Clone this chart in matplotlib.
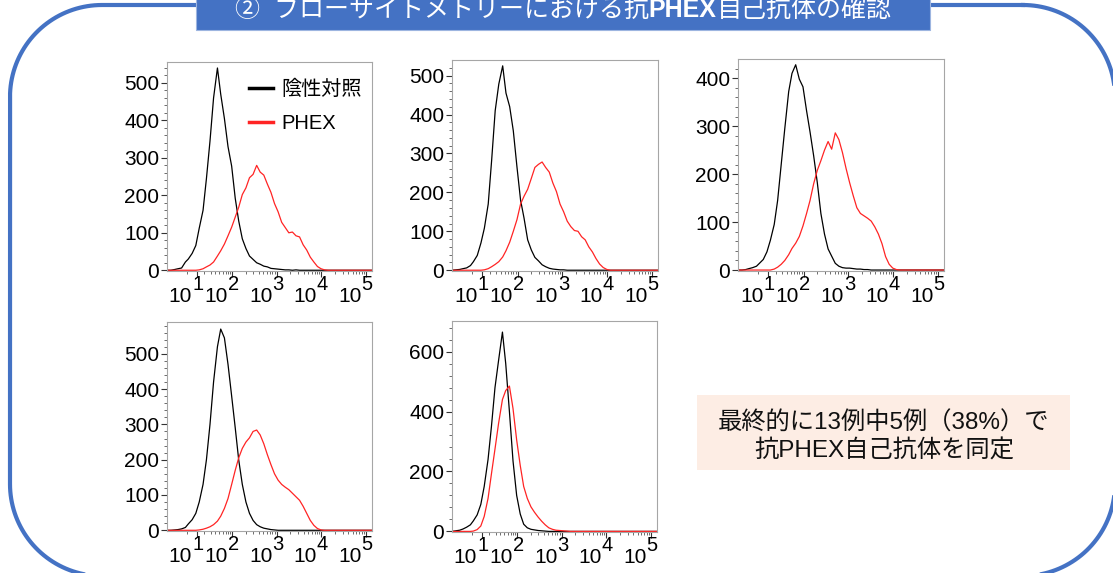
import numpy as np
import matplotlib
matplotlib.use("Agg")
import matplotlib.pyplot as plt
from matplotlib.patches import Rectangle
from matplotlib.lines import Line2D
from matplotlib.offsetbox import TextArea, HPacker, AnnotationBbox

JP = ['Liberation Sans', 'Noto Sans CJK JP']
plt.rcParams['font.family'] = JP

BLUE = '#4472c4'
RED = '#ff2424'

# fluorescence bins (channel intensity)
bins = [-25, -19, -14, -10, -6, -2, 1, 5, 9, 13, 18, 23, 29, 36, 45, 54, 66, 80,
        97, 117, 140, 169, 204, 245, 295, 355, 426, 513, 617, 741, 891, 1072,
        1288, 1549, 1862, 2239, 2692, 3236, 3890, 4677, 5623, 6761, 8128, 9772,
        11749, 14125, 16982, 20417, 24547, 29512, 35481, 42658, 51286, 61660,
        74131, 89125, 107152, 135000]

Z = [0] * 10
neg1 = [0, 0, 2, 4, 6, 22, 30, 45, 66, 112,
        160, 245, 345, 460, 540, 470, 405, 330, 278, 192,
        132, 84, 58, 38, 29, 20, 16, 11, 9, 5,
        4, 3, 2, 1, 1, 0, 1, 0, 0, 0] + Z + [0] * 8
phex1 = [0, 0, 0, 0, 0, 0, 0, 0, 0, 1,
         4, 9, 14, 22, 38, 52, 70, 92, 115, 142,
         168, 202, 220, 247, 256, 280, 262, 254, 230, 208,
         178, 156, 128, 114, 100, 102, 92, 89, 68, 54,
         35, 22, 10, 4, 1, 0, 0, 0, 0, 0] + [0] * 8

neg2 = [0, 1, 2, 4, 6, 12, 22, 38, 70, 108,
        170, 282, 410, 478, 525, 455, 420, 358, 265, 180,
        134, 78, 52, 33, 24, 14, 9, 5, 3, 2,
        1, 1, 0, 0, 0, 0, 0, 0, 0, 0] + Z + [0] * 8
phex2 = [0, 0, 0, 0, 0, 0, 0, 0, 0, 1,
         4, 9, 15, 22, 34, 50, 72, 100, 130, 170,
         190, 208, 236, 264, 272, 278, 264, 252, 224, 202,
         170, 150, 126, 112, 102, 100, 86, 78, 60, 47,
         30, 16, 7, 2, 0, 0, 0, 0, 0, 0] + [0] * 8

neg3 = [0, 0, 1, 3, 5, 8, 14, 22, 38, 62,
        95, 145, 220, 295, 372, 410, 428, 398, 382, 332,
        288, 238, 182, 118, 75, 44, 29, 14, 8, 5,
        4, 4, 3, 2, 2, 1, 1, 0, 0, 0] + Z + [0] * 8
phex3 = [0, 0, 0, 0, 0, 0, 0, 0, 0, 0,
         2, 6, 12, 20, 32, 45, 56, 70, 92, 118,
         145, 180, 208, 228, 250, 268, 252, 286, 272, 245,
         212, 182, 155, 130, 118, 113, 108, 102, 90, 75,
         55, 28, 12, 4, 1, 0, 0, 0, 0, 0] + [0] * 8

neg4 = [0, 0, 1, 2, 4, 8, 18, 30, 48, 80,
        130, 200, 300, 420, 520, 570, 545, 470, 380, 290,
        200, 130, 80, 48, 28, 16, 10, 6, 4, 2,
        1, 0, 0, 0, 0, 0, 0, 0, 0, 0] + Z + [0] * 8
phex4 = [0, 0, 0, 0, 0, 0, 0, 0, 0, 1,
         3, 6, 10, 16, 26, 40, 62, 90, 130, 170,
         205, 232, 250, 262, 280, 284, 270, 245, 214, 186,
         160, 142, 130, 122, 115, 105, 95, 85, 68, 48,
         28, 14, 5, 1, 0, 0, 0, 0, 0, 0] + [0] * 8

neg5 = [0, 2, 4, 8, 14, 22, 35, 55, 90, 150,
        240, 350, 480, 570, 665, 560, 400, 235, 120, 58,
        24, 12, 7, 5, 3, 2, 1, 0, 0, 0] + Z + Z + [0] * 8
phex5 = [0, 0, 0, 0, 0, 0, 1, 6, 18, 50,
         110, 192, 275, 360, 440, 470, 485, 410, 305, 220,
         150, 110, 82, 64, 48, 34, 22, 12, 7, 4,
         3, 2, 1, 0, 0, 0, 0, 0, 0, 0] + Z + [0] * 8

panels = [(neg1, phex1, 556, 100, 500), (neg2, phex2, 540, 100, 500),
          (neg3, phex3, 440, 100, 400), (neg4, phex4, 590, 100, 500),
          (neg5, phex5, 702, 200, 600)]
# pixel boxes (left, top, right, bottom)
boxes = [(167, 62, 372, 271), (452, 60, 658, 271), (738, 59, 944, 271),
         (167, 322, 372, 531), (452, 321, 657, 532)]

W, H = 1113, 573
fig = plt.figure(figsize=(W / 100, H / 100), dpi=100)

# background decorations
bg = fig.add_axes([0, 0, 1, 1])
bg.set_xlim(0, W)
bg.set_ylim(H, 0)
bg.axis('off')

# rounded outer frame, drawn as a polyline
fl, ft, fr, fb, rad = 10, 5, 1115, 576, 92
corners = [(fr - rad, ft + rad, -90, 0), (fr - rad, fb - rad, 0, 90),
           (fl + rad, fb - rad, 90, 180), (fl + rad, ft + rad, 180, 270)]
fx, fy = [], []
for cx, cy, a0, a1 in corners:
    th = np.radians(np.linspace(a0, a1, 40))
    fx += list(cx + rad * np.cos(th))
    fy += list(cy + rad * np.sin(th))
fx.append(fx[0])
fy.append(fy[0])
bg.plot(fx, fy, color=BLUE, lw=3, clip_on=False, solid_joinstyle='round')

bg.add_patch(Rectangle((196, -2), 734, 32, fc=BLUE, ec='#9db5e0', lw=0.8, zorder=3))
parts = [('②  フローサイトメトリーにおける抗', 'normal'), ('PHEX', 'bold'), ('自己抗体の確認', 'normal')]
tas = [TextArea(t, textprops=dict(color='white', fontsize=18, family=JP, fontweight=w))
       for t, w in parts]
ab = AnnotationBbox(HPacker(children=tas, align='baseline', pad=0, sep=0), (563, 10),
                    xycoords='data', frameon=False, box_alignment=(0.5, 0.5), zorder=4)
bg.add_artist(ab)

bg.add_patch(Rectangle((697, 395), 373, 75, fc='#fdede4', ec='none'))
bg.text(884, 437, '最終的に13例中5例（38%）で\n抗PHEX自己抗体を同定', ha='center', va='center',
        fontsize=17.5, linespacing=1.3, color='#111111')

fwd = lambda x: np.arcsinh(np.asarray(x) / 20.0) / np.log(10)
inv = lambda p: 20.0 * np.sinh(np.asarray(p) * np.log(10))

minors = [0] + [m * 10 ** d for d in range(1, 5) for m in range(2, 10)]

for (neg, phex, ytop, ystep, ymax), (l, t, r, b) in zip(panels, boxes):
    ax = fig.add_axes([l / W, (H - b) / H, (r - l) / W, (b - t) / H])
    ax.set_xscale('function', functions=(fwd, inv))
    ax.plot(bins, neg, color='black', lw=0.9)
    ax.plot(bins, phex, color=RED, lw=0.9)
    ax.set_xlim(-25, 135000)
    ax.set_ylim(-2, ytop)
    ax.set_yticks(np.arange(0, ymax + 1, ystep))
    ax.set_yticks(np.arange(0, ytop, ystep / 5), minor=True)
    ax.set_xticks([10, 100, 1000, 10000, 100000])
    ax.set_xticks(minors, minor=True)
    ax.set_xticklabels([])
    for s in ax.spines.values():
        s.set_color('#a6a6a6')
        s.set_linewidth(0.8)
    ax.tick_params(which='major', length=4, width=0.8, color='#333333', labelsize=15, pad=1.5)
    ax.tick_params(which='minor', length=2.2, width=0.6, color='#555555')
    for d in range(1, 6):
        ax.annotate('10', xy=(10 ** d, 0), xycoords=('data', 'axes fraction'),
                    xytext=(-3.2, -18.5), textcoords='offset points', ha='right', va='center',
                    fontsize=15, annotation_clip=False)
        ax.annotate(str(d), xy=(10 ** d, 0), xycoords=('data', 'axes fraction'),
                    xytext=(0.8, -9.5), textcoords='offset points', ha='center', va='center',
                    fontsize=14.5, annotation_clip=False)
    if neg is neg1:
        ax.legend(handles=[Line2D([], [], color='black', lw=2.5), Line2D([], [], color=RED, lw=2.5)],
                  labels=['陰性対照', 'PHEX'], loc='upper right', frameon=False, fontsize=14.5,
                  handlelength=1.2, handletextpad=0.4, labelspacing=0.75,
                  bbox_to_anchor=(1.0, 0.965), borderaxespad=0.1)

fig.savefig('out.png', dpi=100)
